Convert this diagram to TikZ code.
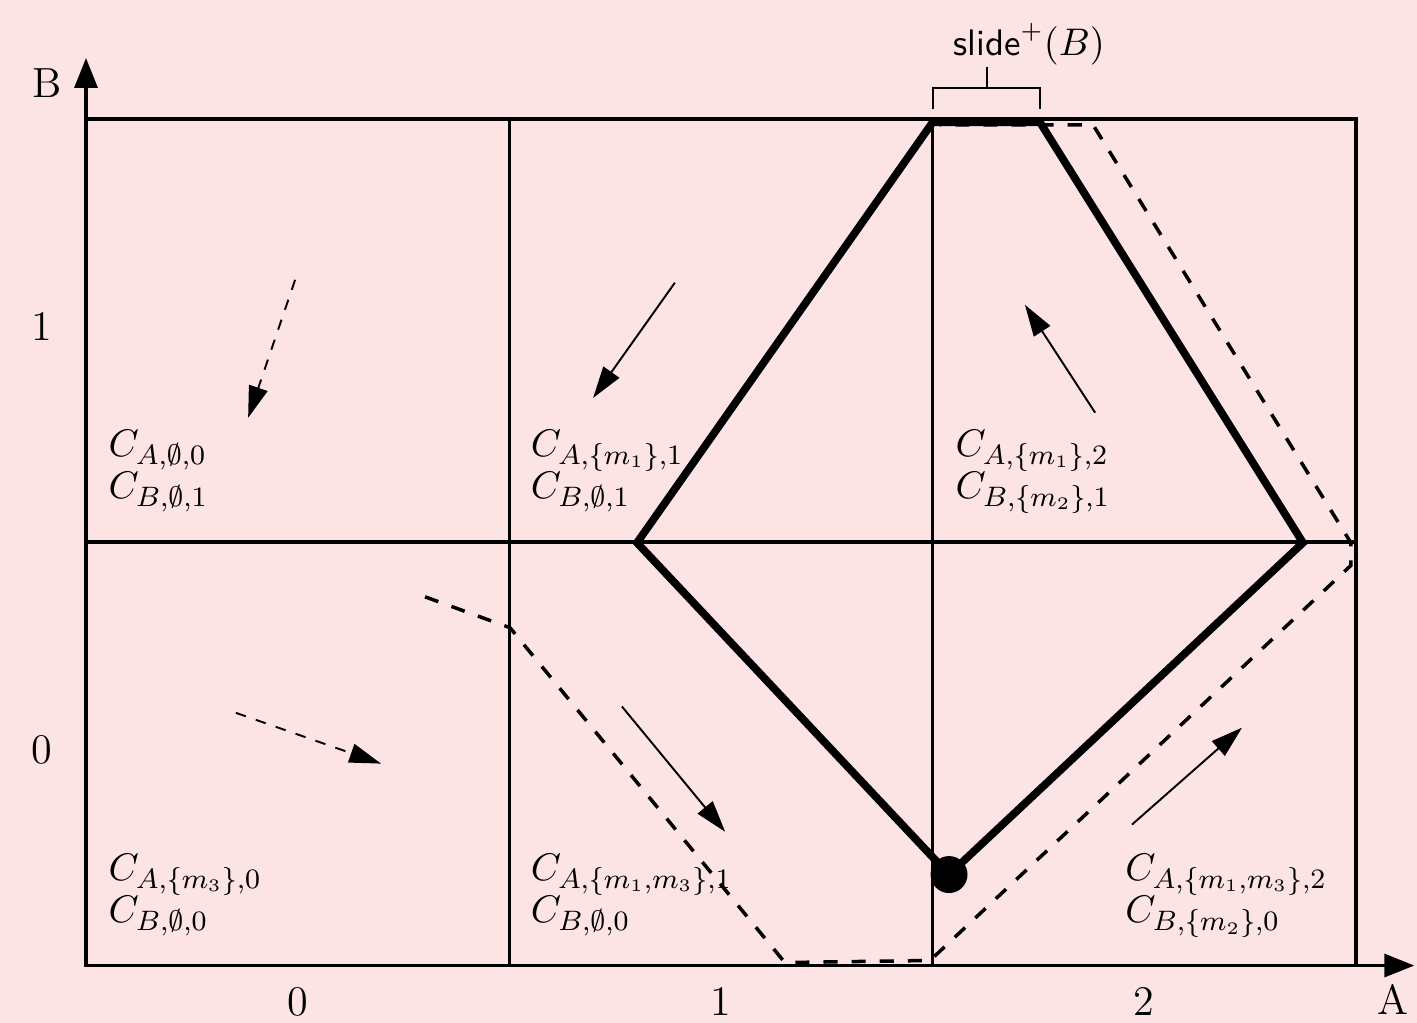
\documentclass[tikz,border=0pt]{standalone}
\usepackage{amssymb}
\usepackage{xcolor}
\usepackage{tikz}
\usetikzlibrary{arrows.meta, calc}
\definecolor{bg}{HTML}{FDE4E4}

\begin{document}
\begin{tikzpicture}[x=4.234cm, y=4.234cm,
    grid line/.style={line width=1pt},
    run/.style={line width=2.2pt, line join=miter},
    slide run/.style={line width=1pt, dash pattern=on 4pt off 4pt},
    flow/.style={line width=0.55pt, -{Triangle[length=9pt, width=5.5pt]}},
    flow dashed/.style={flow, dash pattern=on 3pt off 3pt},
    axis/.style={line width=1pt, -{Triangle[length=8.5pt, width=6.5pt]}},
    cell label/.style={anchor=base west, align=left, inner sep=0pt,
      font=\fontsize{11}{12}\selectfont}]
  \path[use as bounding box, fill=bg] (-0.2032,-0.1346) rectangle (3.1444,2.2810);

  \draw[grid line] (0,0) rectangle (3,2);
  \draw[grid line] (1,0) -- (1,2) (2,0) -- (2,2) (0,1) -- (3,1);
  \draw[axis] (0,0) -- (0,2.144);
  \draw[axis] (0,0) -- (3.138,0);
  \node[font=\large] (labB) at (-0.092,2.085) {B};
  \node[font=\large] (labA) at (3.088,-0.080) {A};
  \foreach \i in {0,1,2}
    \node[font=\large] (xtick\i) at (\i+0.5,-0.085) {\i};
  \foreach \j in {0,1}
    \node[font=\large] (ytick\j) at (-0.104,\j+0.51) {\j};

  \foreach \cx/\cy/\ca/\cb [count=\k] in {
      0.052/1.103/{\emptyset,0}/{\emptyset,1},
      1.049/1.103/{\{m_1\},1}/{\emptyset,1},
      2.053/1.103/{\{m_1\},2}/{\{m_2\},1},
      0.052/0.101/{\{m_3\},0}/{\emptyset,0},
      1.049/0.101/{\{m_1,m_3\},1}/{\emptyset,0},
      2.454/0.101/{\{m_1,m_3\},2}/{\{m_2\},0}
  } {
    \node[cell label] (cell\k) at (\cx,\cy) {$C_{A,\ca}$\\$C_{B,\cb}$};
  }

  \foreach \st/\sx/\sy/\ex/\ey in {
      flow dashed/0.494/1.620/0.383/1.294,
      flow/1.391/1.613/1.198/1.341,
      flow/2.384/1.306/2.218/1.561,
      flow dashed/0.354/0.597/0.697/0.477,
      flow/1.266/0.612/1.510/0.316,
      flow/2.471/0.333/2.731/0.562
  } {
    \draw[\st] (\sx,\sy) -- (\ex,\ey);
  }

  \coordinate (w) at (1.3017,0.9988);
  \coordinate (nw) at (2.0,1.992);
  \coordinate (ne) at (2.2537,1.992);
  \coordinate (e) at (2.875,0.9988);
  \coordinate (s) at (2.0388,0.2149);
  \draw[run] (w) -- (nw) -- (ne) -- (e) -- (s) -- cycle;
  \fill (s) circle (0.0437);

  \draw[slide run] (0.801,0.871) -- (1.0017,0.798) -- (1.651,0.007)
    -- (1.994,0.012) -- (2.988,0.945) -- (2.988,0.999)
    -- (2.379,1.986) -- (2.017,1.986);

  \node[anchor=base, inner sep=0pt, font=\fontsize{10.5}{12}\selectfont]
    (slide) at (2.228,2.151) {$\textsf{slide}^+(B)$};
  \draw[line width=0.6pt] (2.0,2.0236) |- (2.2537,2.073) -- (2.2537,2.0236);
  \draw[line width=0.6pt] (2.1285,2.073) -- (2.1285,2.123);
\end{tikzpicture}
\end{document}
